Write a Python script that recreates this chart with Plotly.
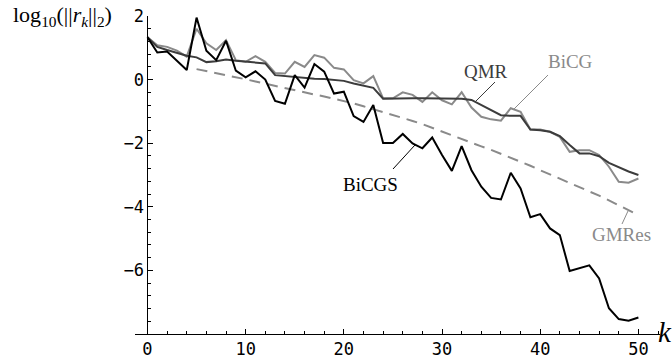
import plotly.graph_objects as go

k_all = list(range(0, 51))
k_gmres = list(range(5, 51))

bicgs = [1.33, 0.85, 0.88, 0.58, 0.30, 1.95, 0.91, 0.61, 1.22, 0.28,
         0.07, 0.26, 0.00, -0.67, -0.76, 0.14, -0.25, 0.49, 0.25, -0.44,
         -0.38, -1.15, -1.33, -0.80, -1.99, -1.99, -1.71, -2.01, -2.16, -1.82,
         -2.37, -2.87, -2.09, -2.85, -3.37, -3.72, -3.77, -2.93, -3.42, -4.33,
         -4.23, -4.68, -4.89, -6.02, -5.94, -5.84, -6.25, -7.19, -7.53, -7.58,
         -7.48]

qmr = [1.33, 1.03, 0.93, 0.84, 0.75, 0.70, 0.55, 0.58, 0.63, 0.59,
       0.56, 0.54, 0.51, 0.14, 0.11, 0.09, 0.06, 0.03, 0.02, 0.00,
       -0.04, -0.12, -0.20, -0.26, -0.60, -0.59, -0.59, -0.59, -0.59, -0.59,
       -0.59, -0.59, -0.60, -0.64, -0.80, -0.96, -1.12, -1.14, -1.14, -1.57,
       -1.59, -1.64, -1.78, -2.06, -2.32, -2.32, -2.41, -2.62, -2.76, -2.89,
       -3.00]

bicg = [1.33, 1.08, 1.03, 0.91, 0.72, 1.60, 1.14, 0.93, 1.24, 0.61,
        0.56, 0.74, 0.56, 0.21, 0.19, 0.56, 0.40, 0.77, 0.69, 0.37,
        0.32, -0.02, -0.12, 0.11, -0.59, -0.59, -0.40, -0.48, -0.70, -0.40,
        -0.65, -0.78, -0.40, -0.88, -1.17, -1.25, -1.29, -0.90, -1.01, -1.57,
        -1.57, -1.64, -1.80, -2.27, -2.22, -2.22, -2.37, -2.74, -3.21, -3.24,
        -3.11]

gmres = [0.33, 0.27, 0.21, 0.15, 0.08, 0.01, -0.06, -0.13, -0.21, -0.27,
         -0.34, -0.41, -0.47, -0.53, -0.60, -0.67, -0.75, -0.84, -0.93, -1.02,
         -1.10, -1.20, -1.30, -1.40, -1.52, -1.64, -1.76, -1.87, -1.98, -2.10,
         -2.21, -2.33, -2.45, -2.57, -2.71, -2.85, -2.98, -3.12, -3.25, -3.38,
         -3.52, -3.65, -3.80, -3.95, -4.10, -4.26]

x_ticks = [0, 10, 20, 30, 40, 50]
y_ticks = [-6, -4, -2, 0, 2]

W, H = 672, 358
ML, MR, MT, MB = 135, 12, 16, 24
PW, PH = W - ML - MR, H - MT - MB
X_RANGE = [-1.27, 52.2]
Y_RANGE = [-8, 2]

def px(x):
    return (x - ML) / PW

def py(y):
    return (H - MB - y) / PH

DARK = "#3c3c3c"
LIGHT = "#8a8a8a"

fig = go.Figure()
fig.add_trace(go.Scatter(x=k_gmres, y=gmres, mode="lines",
                         line=dict(color=LIGHT, width=2, dash="11px,7px")))
fig.add_trace(go.Scatter(x=k_all, y=bicg, mode="lines",
                         line=dict(color=LIGHT, width=2)))
fig.add_trace(go.Scatter(x=k_all, y=qmr, mode="lines",
                         line=dict(color=DARK, width=2)))
fig.add_trace(go.Scatter(x=k_all, y=bicgs, mode="lines",
                         line=dict(color="black", width=2)))

tickfont = dict(family="DejaVu Sans Mono", size=17, color="black")
serif = "Liberation Serif"

fig.update_layout(
    width=W, height=H,
    margin=dict(l=ML, r=MR, t=MT, b=MB, autoexpand=False),
    paper_bgcolor="white", plot_bgcolor="white",
    showlegend=False,
    xaxis=dict(range=X_RANGE, showgrid=False, zeroline=False, automargin=False,
               showline=True, linecolor="black", linewidth=1,
               ticks="inside", ticklen=5, tickcolor="black", tickwidth=1,
               tickvals=x_ticks, tickfont=tickfont,
               minor=dict(dtick=2, tick0=0, ticks="inside", ticklen=3,
                          tickcolor="black", showgrid=False)),
    yaxis=dict(range=Y_RANGE, showgrid=False, zeroline=False, automargin=False,
               anchor="free", position=(0 - X_RANGE[0]) / (X_RANGE[1] - X_RANGE[0]),
               showline=True, linecolor="black", linewidth=1,
               ticks="inside", ticklen=5, tickcolor="black", tickwidth=1,
               tickvals=y_ticks, tickfont=tickfont,
               minor=dict(dtick=0.4, tick0=0, ticks="inside", ticklen=3,
                          tickcolor="black", showgrid=False)),
)

annos = [
    dict(text="log<sub>10</sub>(||<i>r<sub>k</sub></i>||<sub>2</sub>)",
         x=px(114), y=py(16), xanchor="right", yanchor="middle",
         font=dict(family=serif, size=22, color="black")),
    dict(text="<i>k</i>", x=px(674), y=py(332), xanchor="right", yanchor="middle",
         font=dict(family=serif, size=29, color="black")),
    dict(text="QMR", x=px(486), y=py(72), xanchor="center", yanchor="middle",
         font=dict(family=serif, size=19, color=DARK)),
    dict(text="BiCG", x=px(570), y=py(62), xanchor="center", yanchor="middle",
         font=dict(family=serif, size=19, color=LIGHT)),
    dict(text="BiCGS", x=px(370), y=py(184), xanchor="center", yanchor="middle",
         font=dict(family=serif, size=19, color="black")),
    dict(text="GMRes", x=px(621), y=py(234), xanchor="center", yanchor="middle",
         font=dict(family=serif, size=19, color=LIGHT)),
]
for a in annos:
    fig.add_annotation(xref="paper", yref="paper", showarrow=False, **a)

leaders = [
    ((495, 82), (475, 102), DARK),
    ((548, 75), (513, 110), LIGHT),
    ((393, 169), (415, 145), "black"),
    ((622, 224), (628, 211), LIGHT),
]
for (x0, y0), (x1, y1), c in leaders:
    fig.add_shape(type="line", xref="paper", yref="paper",
                  x0=px(x0), y0=py(y0), x1=px(x1), y1=py(y1),
                  line=dict(color=c, width=1))

fig.write_html("out.html", config={"displayModeBar": False},
               post_script="document.body.style.margin='0';document.body.style.padding='0';")
